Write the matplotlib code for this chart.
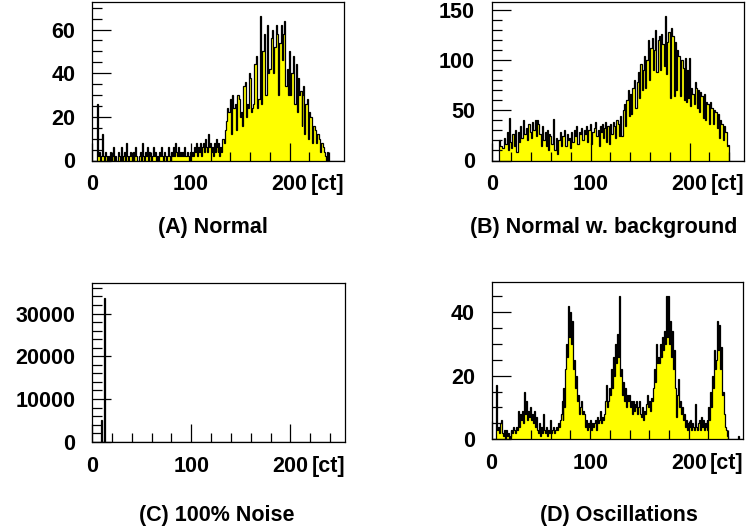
import numpy as np
import matplotlib
matplotlib.use("Agg")
import matplotlib.pyplot as plt
from matplotlib.ticker import MultipleLocator, FixedLocator
from matplotlib.transforms import offset_copy

plt.rcParams['font.family'] = ['Liberation Sans', 'DejaVu Sans']
plt.rcParams['font.weight'] = 'bold'

# channel edges (ADC counts)
edges = np.arange(257)

# (A) Normal - counts per channel
normal = [
    0, 0, 0, 0, 0, 26, 2, 4, 0, 2,
    12, 2, 0, 4, 2, 0, 2, 0, 4, 0,
    2, 6, 0, 2, 0, 0, 4, 2, 0, 6,
    0, 2, 4, 0, 8, 2, 0, 2, 4, 2,
    0, 4, 0, 2, 6, 2, 0, 0, 2, 4,
    0, 8, 2, 0, 4, 2, 6, 0, 4, 2,
    0, 2, 6, 2, 4, 0, 2, 0, 4, 2,
    6, 2, 0, 4, 2, 0, 2, 6, 2, 0,
    4, 2, 6, 2, 8, 4, 2, 6, 2, 4,
    2, 4, 2, 6, 2, 2, 4, 2, 0, 4,
    2, 4, 2, 6, 4, 8, 2, 6, 4, 8,
    2, 6, 8, 4, 10, 6, 4, 12, 6, 8,
    4, 6, 2, 8, 4, 10, 6, 4, 8, 2,
    6, 4, 10, 10, 8, 14, 18, 24, 22, 22,
    28, 12, 30, 24, 24, 26, 14, 30, 30, 28,
    20, 22, 16, 34, 34, 36, 20, 26, 24, 40,
    38, 22, 24, 26, 44, 44, 48, 24, 28, 28,
    66, 26, 50, 50, 58, 30, 30, 62, 40, 42,
    42, 56, 60, 40, 52, 52, 62, 58, 30, 54,
    54, 62, 46, 58, 64, 34, 34, 42, 30, 50,
    30, 40, 40, 48, 26, 26, 44, 22, 38, 30,
    32, 32, 16, 30, 34, 12, 26, 26, 28, 10,
    22, 20, 20, 8, 16, 16, 14, 8, 12, 12,
    10, 4, 8, 8, 6, 4, 2, 0, 4, 0,
    0, 0, 0, 0, 0, 0, 0, 0, 0, 0,
    0, 0, 0, 0, 0, 0,
]

# (B) Normal with background
background = [
    0, 0, 0, 0, 0, 0, 0, 20, 14, 14,
    12, 12, 22, 16, 16, 28, 10, 42, 18, 18,
    12, 26, 26, 14, 30, 8, 8, 28, 18, 34,
    22, 22, 40, 26, 26, 32, 20, 36, 36, 28,
    22, 38, 30, 30, 40, 24, 40, 36, 26, 26,
    14, 34, 20, 20, 28, 14, 30, 10, 26, 24,
    16, 16, 41, 10, 10, 22, 6, 20, 20, 28,
    14, 24, 24, 30, 14, 14, 26, 20, 22, 12,
    28, 18, 18, 30, 24, 34, 16, 16, 28, 26,
    32, 20, 20, 30, 26, 34, 18, 30, 30, 36,
    16, 28, 28, 32, 38, 24, 24, 30, 14, 34,
    28, 36, 22, 22, 32, 38, 18, 34, 34, 16,
    36, 26, 26, 38, 34, 22, 40, 40, 36, 24,
    44, 24, 24, 50, 56, 34, 60, 60, 70, 44,
    66, 46, 72, 72, 80, 52, 52, 78, 88, 62,
    96, 96, 70, 90, 104, 72, 100, 100, 120, 80,
    112, 112, 122, 90, 110, 130, 88, 88, 120, 124,
    90, 126, 116, 116, 94, 144, 86, 118, 128, 128,
    62, 132, 124, 124, 64, 118, 70, 110, 104, 104,
    64, 100, 100, 92, 60, 102, 58, 90, 62, 102,
    54, 72, 66, 66, 56, 78, 72, 72, 52, 70,
    48, 68, 64, 64, 42, 66, 40, 58, 56, 56,
    36, 58, 52, 52, 36, 50, 48, 48, 32, 46,
    22, 40, 36, 36, 20, 34, 28, 28, 14, 15,
    0, 0, 0, 0, 0, 0, 0, 0, 0, 0,
    0, 0, 0, 0, 0, 0,
]

# (C) 100% noise: almost everything sits in two channels
noise_channels = [9, 12]
noise_counts = [5100, 33700]

# (D) Oscillations
oscill = [
    0, 0, 0, 0, 0, 17, 3, 4, 2, 5,
    6, 2, 1, 3, 0, 3, 1, 2, 0, 1,
    3, 2, 4, 3, 2, 4, 3, 9, 4, 8,
    6, 9, 5, 15, 8, 12, 6, 9, 7, 10,
    6, 8, 5, 9, 4, 7, 3, 2, 5, 1,
    4, 2, 8, 3, 2, 4, 1, 3, 2, 6,
    2, 3, 4, 2, 3, 4, 3, 5, 4, 6,
    8, 12, 6, 16, 10, 22, 30, 26, 42, 32,
    40, 30, 37, 22, 25, 16, 20, 12, 14, 8,
    10, 12, 8, 9, 8, 4, 6, 3, 5, 4,
    6, 3, 5, 4, 5, 6, 3, 7, 5, 6,
    9, 5, 7, 6, 8, 12, 17, 10, 12, 16,
    14, 22, 16, 26, 20, 30, 24, 33, 26, 45,
    20, 22, 14, 18, 12, 16, 10, 14, 12, 14,
    10, 12, 8, 12, 9, 11, 10, 12, 8, 10,
    12, 8, 7, 10, 6, 9, 8, 11, 14, 10,
    12, 9, 13, 12, 16, 22, 18, 30, 24, 26,
    24, 30, 26, 32, 28, 34, 30, 45, 32, 45,
    30, 37, 26, 34, 22, 28, 16, 7, 14, 19,
    10, 12, 8, 10, 6, 8, 4, 6, 3, 5,
    4, 6, 3, 5, 4, 3, 11, 4, 3, 5,
    6, 3, 7, 4, 6, 3, 5, 4, 6, 3,
    10, 6, 15, 10, 20, 16, 28, 22, 25, 37,
    28, 36, 22, 29, 14, 15, 8, 4, 3, 1,
    0, 0, 0, 0, 0, 0, 0, 0, 0, 0,
    1, 0, 0, 0, 0, 0,
]

noise = np.zeros(256)
noise[noise_channels] = noise_counts

titles = ["(A) Normal", "(B) Normal w. background", "(C) 100% Noise", "(D) Oscillations"]
ymaj = [20, 50, 10000, 20]
ymin = [5, 10, 2000, 5]

W, H = 747, 529
# axes boxes in pixels: left, top, right, bottom
boxes = [(92, 2, 344, 160.5), (491.7, 2, 744, 160.5),
         (92, 283.3, 345, 441.7), (491.5, 281.7, 743, 439.3)]
title_pos = [(213, 228), (604, 228), (217, 516), (619, 516)]

fig = plt.figure(figsize=(W / 100, H / 100), dpi=100)
fs = 15.5

for i, counts in enumerate([normal, background, noise, oscill]):
    l, t, r, b = boxes[i]
    ax = fig.add_axes([l / W, 1 - b / H, (r - l) / W, (b - t) / H])
    counts = np.asarray(counts, dtype=float)
    ax.stairs(counts, edges, fill=True, color='#ffff00', lw=0)
    ax.stairs(counts, edges, color='black', lw=0.9)
    ax.set_xlim(0, 255)
    ax.set_ylim(0, 1.1 * counts.max())

    ax.xaxis.set_major_locator(FixedLocator([0, 100, 200]))
    ax.xaxis.set_minor_locator(MultipleLocator(20))
    ax.yaxis.set_major_locator(MultipleLocator(ymaj[i]))
    ax.yaxis.set_minor_locator(MultipleLocator(ymin[i]))
    ax.tick_params(which='both', direction='in', top=False, right=False,
                   color='black', width=0.9, labelsize=fs)
    ax.tick_params(axis='x', which='major', length=13, pad=10)
    ax.tick_params(axis='x', which='minor', length=6.5)
    ax.tick_params(axis='y', which='major', length=14, pad=12)
    ax.tick_params(axis='y', which='minor', length=7)
    for lab in ax.get_xticklabels() + ax.get_yticklabels():
        lab.set_fontweight('bold')
    for sp in ax.spines.values():
        sp.set_linewidth(0.9)
        sp.set_color('black')

    # unit label after the last tick label
    tr = offset_copy(ax.transAxes, fig=fig, y=-10, units='points')
    ax.text(1.0, 0, "[ct]", transform=tr, ha='right', va='top',
            fontsize=fs, fontweight='bold')

    tx, ty = title_pos[i]
    fig.text(tx / W, 1 - ty / H, titles[i], ha='center', va='center',
             fontsize=fs, fontweight='bold')

fig.savefig("out.png", dpi=100)
